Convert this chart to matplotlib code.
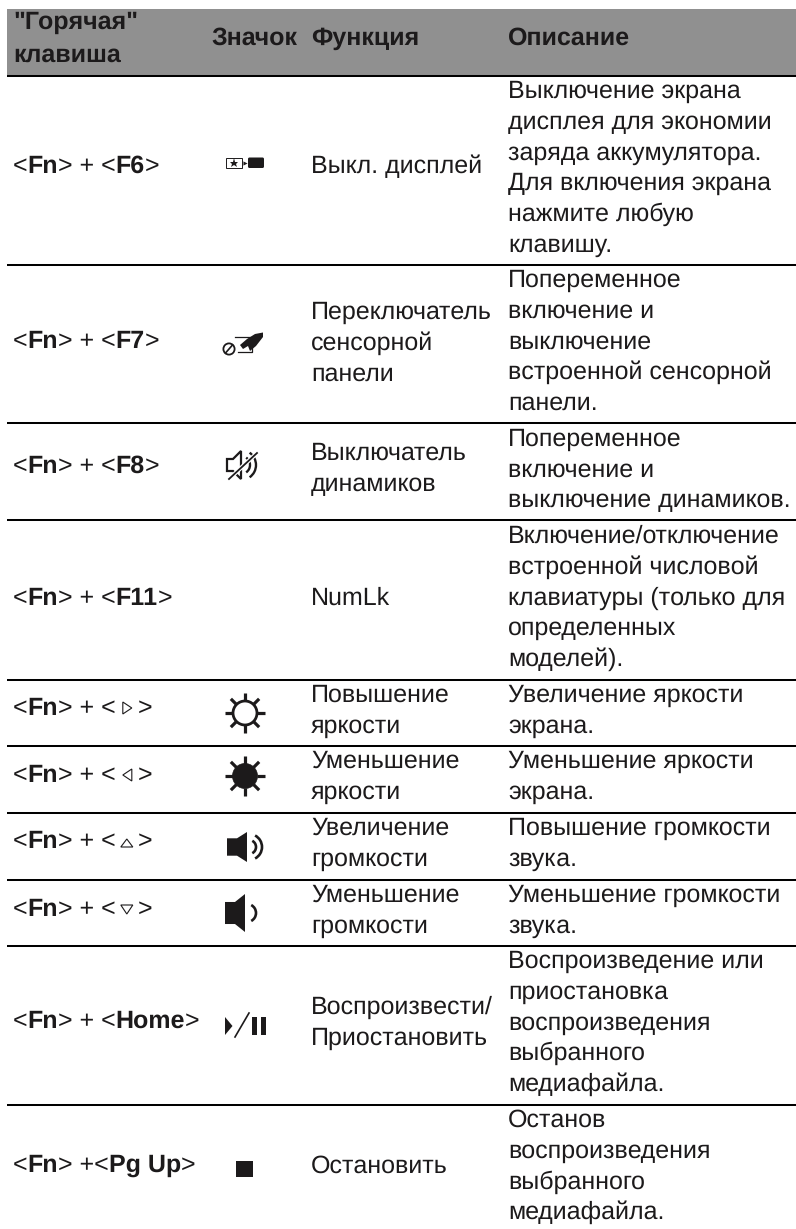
import numpy as np
import matplotlib
matplotlib.use('Agg')
import matplotlib.pyplot as plt
from matplotlib.patches import Rectangle, Polygon, Circle, Arc, FancyBboxPatch

plt.rcParams['font.family'] = ['Liberation Sans', 'DejaVu Sans']
plt.rcParams['text.hinting'] = 'no_hinting'
plt.rcParams['text.hinting_factor'] = 1

# table content
headers = [['"Горячая"', 'клавиша'], ['Значок'], ['Функция'], ['Описание']]

# each key is a list of (text, kind) runs: 0 plain, 1 bold, 2 arrow glyph
keys = [
    [('<', 0), ('Fn', 1), ('> + <', 0), ('F6', 1), ('>', 0)],
    [('<', 0), ('Fn', 1), ('> + <', 0), ('F7', 1), ('>', 0)],
    [('<', 0), ('Fn', 1), ('> + <', 0), ('F8', 1), ('>', 0)],
    [('<', 0), ('Fn', 1), ('> + <', 0), ('F11', 1), ('>', 0)],
    [('<', 0), ('Fn', 1), ('> + <', 0), ('right', 2), ('>', 0)],
    [('<', 0), ('Fn', 1), ('> + <', 0), ('left', 2), ('>', 0)],
    [('<', 0), ('Fn', 1), ('> + <', 0), ('up', 2), ('>', 0)],
    [('<', 0), ('Fn', 1), ('> + <', 0), ('down', 2), ('>', 0)],
    [('<', 0), ('Fn', 1), ('> + <', 0), ('Home', 1), ('>', 0)],
    [('<', 0), ('Fn', 1), ('> +<', 0), ('Pg Up', 1), ('>', 0)],
]
functions = [
    ['Выкл. дисплей'],
    ['Переключатель', 'сенсорной', 'панели'],
    ['Выключатель', 'динамиков'],
    ['NumLk'],
    ['Повышение', 'яркости'],
    ['Уменьшение', 'яркости'],
    ['Увеличение', 'громкости'],
    ['Уменьшение', 'громкости'],
    ['Воспроизвести/', 'Приостановить'],
    ['Остановить'],
]
descriptions = [
    ['Выключение экрана', 'дисплея для экономии', 'заряда аккумулятора.', 'Для включения экрана', 'нажмите любую', 'клавишу.'],
    ['Попеременное', 'включение и', 'выключение', 'встроенной сенсорной', 'панели.'],
    ['Попеременное', 'включение и', 'выключение динамиков.'],
    ['Включение/отключение', 'встроенной числовой', 'клавиатуры (только для', 'определенных', 'моделей).'],
    ['Увеличение яркости', 'экрана.'],
    ['Уменьшение яркости', 'экрана.'],
    ['Повышение громкости', 'звука.'],
    ['Уменьшение громкости', 'звука.'],
    ['Воспроизведение или', 'приостановка', 'воспроизведения', 'выбранного', 'медиафайла.'],
    ['Останов', 'воспроизведения', 'выбранного', 'медиафайла.'],
]

# layout, pixels from the top left
rule_y = [76, 265, 423, 520, 680, 746, 812.5, 880, 946, 1105]
key_y = [173, 348, 473, 605, 715, 782, 848, 916, 1028, 1172]
func_y = [173, 319, 460, 605, 702, 768, 835, 902, 1014, 1173]
desc_y = [98, 287, 446, 543, 702, 768, 835, 902, 968, 1127]
LINE = 30.7
FS = 18.1
INK = '#1c1a1b'

fig = plt.figure(figsize=(7.96, 12.29), dpi=100)
ax = fig.add_axes([0, 0, 1, 1])
ax.set_xlim(0, 796)
ax.set_ylim(1229, 0)
ax.axis('off')

ax.add_patch(Rectangle((7, 9), 789, 66, fc='#909090', ec='none'))
for y in rule_y:
    ax.plot([7, 796], [y, y], color='black', lw=1.45, solid_capstyle='butt')

renderer = fig.canvas.get_renderer()


def run_width(s, weight):
    # spaces at the ends are not measured, so wrap the run in dots
    a = ax.text(0, 0, '.' + s + '.', fontsize=FS, fontweight=weight)
    b = ax.text(0, 0, '..', fontsize=FS, fontweight=weight)
    w = a.get_window_extent(renderer).width - b.get_window_extent(renderer).width
    a.remove()
    b.remove()
    return w


def arrow(kind, x, y):
    # small outlined triangle between the brackets, x is slot centre
    if kind == 'right':
        pts = [[x - 4, y - 13], [x + 5, y - 7], [x - 4, y - 1]]
    elif kind == 'left':
        pts = [[x + 5, y - 13], [x - 4, y - 7], [x + 5, y - 1]]
    elif kind == 'up':
        pts = [[x - 6, y - 1], [x, y - 9], [x + 6, y - 1]]
    else:
        pts = [[x - 6, y - 11], [x + 6, y - 11], [x, y - 2]]
    ax.add_patch(Polygon(pts, fc='white', ec=INK, lw=0.8))


def draw_key(runs, x, y):
    for s, kind in runs:
        if kind == 2:
            arrow(s, x + 11, y)
            x += 22
            continue
        weight = 'bold' if kind == 1 else 'normal'
        ax.text(x, y, s, fontsize=FS, fontweight=weight, color=INK, va='baseline', ha='left')
        x += run_width(s, weight)


def sun(cx, cy, filled):
    for a in np.arange(8) * np.pi / 4:
        ax.plot([cx + 12 * np.cos(a), cx + 20 * np.cos(a)],
                [cy + 12 * np.sin(a), cy + 20 * np.sin(a)], color=INK, lw=2.3, solid_capstyle='butt')
    ax.add_patch(Circle((cx, cy), 12.5 if filled else 12, fc=INK if filled else 'white', ec=INK, lw=2 if not filled else 0.5))


def speaker(x0, cy, half, waves):
    # box then cone, x0 is the left edge
    ax.add_patch(Polygon([[x0, cy - half * 0.58], [x0 + 10, cy - half * 0.58], [x0 + 20, cy - half],
                          [x0 + 20, cy + half], [x0 + 10, cy + half * 0.58], [x0, cy + half * 0.58]], fc=INK, ec='none'))
    for r in waves:
        ax.add_patch(Arc((x0 + 22, cy), 2 * r, 2 * r, theta1=-62, theta2=62, color=INK, lw=1.9))


def draw_icons():
    # display off
    ax.add_patch(Rectangle((225.5, 158), 16, 10, fc='white', ec=INK, lw=0.7))
    ax.plot([233.5], [163], marker='*', ms=6.5, color=INK, mew=0)
    ax.plot([244.5], [163], marker='>', ms=3, color=INK, mew=0)
    ax.add_patch(FancyBboxPatch((248, 157.5), 16, 10.5, boxstyle='round,pad=0,rounding_size=1.5', fc=INK, ec='none'))
    # touchpad off
    ax.plot([235, 252, 252, 238], [337, 337, 352, 352], color=INK, lw=0.9)
    ax.add_patch(Circle((229, 349), 5.6, fc='white', ec=INK, lw=1.3))
    ax.plot([225.5, 232.5], [353, 345], color=INK, lw=1.2)
    ax.add_patch(Polygon([[263, 332.5], [255, 334], [247, 339], [240, 345], [243, 349], [248, 346],
                          [250, 351], [256, 346], [263, 337]], fc=INK, ec='none'))
    # speaker muted
    ax.add_patch(Polygon([[227, 459], [233, 459], [241, 451], [241, 479], [233, 471], [227, 471]],
                         fc='white', ec=INK, lw=1.6))
    ax.add_patch(Arc((241, 465), 18, 18, theta1=-55, theta2=55, color=INK, lw=1.7))
    ax.add_patch(Arc((241, 465), 30, 30, theta1=-55, theta2=55, color=INK, lw=1.7))
    ax.plot([229, 257], [479, 453], color='white', lw=3)
    ax.plot([229, 257], [479, 453], color=INK, lw=1.3)
    # brightness and volume
    sun(245, 713, False)
    sun(245, 776, True)
    speaker(227, 847, 15, [7, 13])
    speaker(225, 913, 19, [9])
    # play / pause
    ax.add_patch(Polygon([[225, 1017], [225, 1035], [232.5, 1026]], fc=INK, ec='none'))
    ax.plot([235, 249], [1037, 1013], color=INK, lw=1.2)
    ax.add_patch(Rectangle((252, 1017), 4.5, 18, fc=INK, ec='none'))
    ax.add_patch(Rectangle((261, 1017), 4.5, 18, fc=INK, ec='none'))
    # stop
    ax.add_patch(Rectangle((236, 1161), 17, 16, fc=INK, ec='none'))


# header row
ax.text(13, 29, headers[0][0], fontsize=FS, fontweight='bold', color=INK)
ax.text(13, 62, headers[0][1], fontsize=FS, fontweight='bold', color=INK)
ax.text(211, 45, headers[1][0], fontsize=FS, fontweight='bold', color=INK)
ax.text(311, 45, headers[2][0], fontsize=FS, fontweight='bold', color=INK)
ax.text(508, 45, headers[3][0], fontsize=FS, fontweight='bold', color=INK)

for i in range(len(keys)):
    draw_key(keys[i], 13, key_y[i])
    for j, s in enumerate(functions[i]):
        ax.text(311, func_y[i] + j * LINE, s, fontsize=FS, color=INK)
    for j, s in enumerate(descriptions[i]):
        ax.text(508, desc_y[i] + j * LINE, s, fontsize=FS, color=INK)

draw_icons()

fig.savefig('out.png', dpi=100)
